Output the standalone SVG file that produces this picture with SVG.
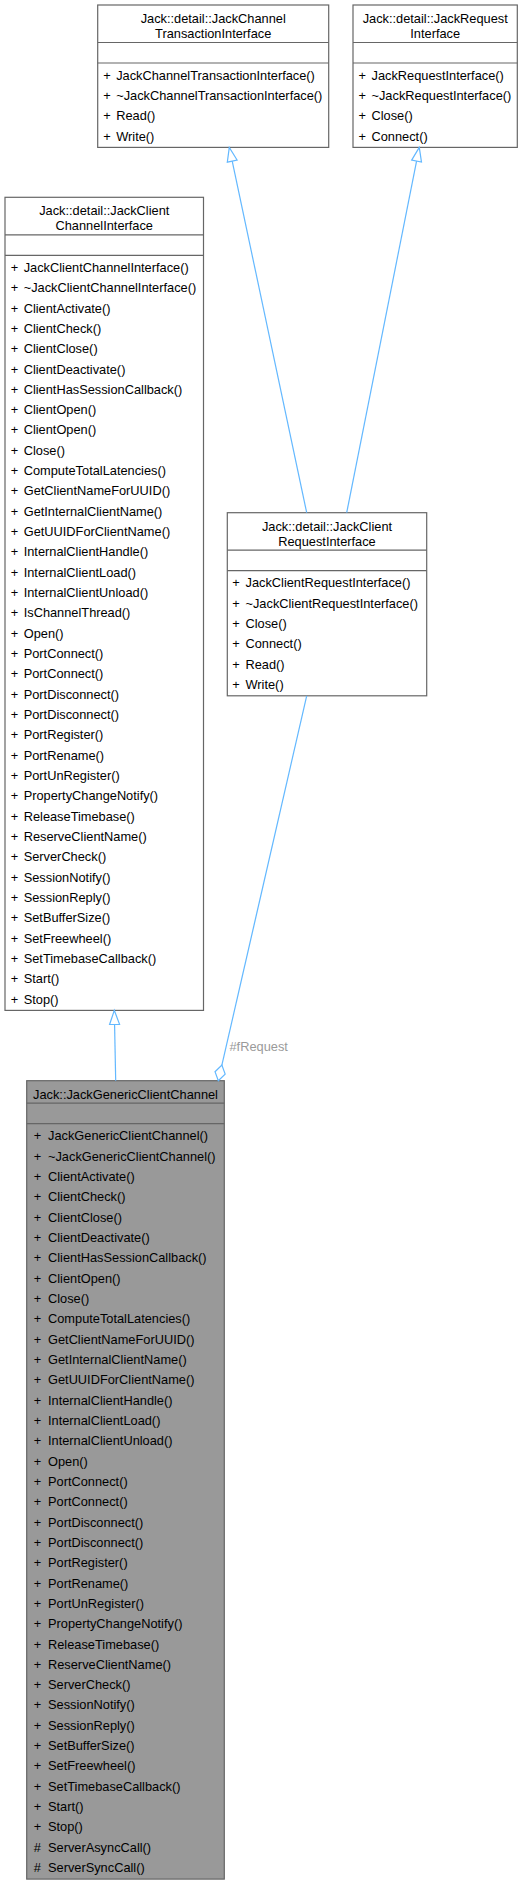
<svg xmlns="http://www.w3.org/2000/svg" width="527" height="1885" viewBox="0 0 527 1885">
<style>
text{font-family:"Liberation Sans",Arial,Helvetica,sans-serif;font-size:12.8px;fill:#000}
.t{text-anchor:middle}
.box{fill:#fff;stroke:#666;stroke-width:1.2}
.cur .box{fill:#999}
.sep{stroke:#666;stroke-width:1.2}
.edge{fill:none;stroke:#63b8ff;stroke-width:1.2}
.mk{fill:#fff;stroke:#63b8ff;stroke-width:1.2}
.lbl{fill:#9a9a9a}
</style>
<defs>
<marker id="tri" markerUnits="userSpaceOnUse" orient="auto" refX="0" refY="0" markerWidth="30" markerHeight="30" style="overflow:visible"><path class="mk" d="M0,0 L-14,-5 L-14,5 Z"/></marker>
<marker id="dia" markerUnits="userSpaceOnUse" orient="auto" refX="0" refY="0" markerWidth="30" markerHeight="30" style="overflow:visible"><path class="mk" d="M0,0 L-8,-5.2 L-16,0 L-8,5.2 Z"/></marker>
</defs>

<g id="node-JackChannelTransactionInterface">
<rect class="box" x="97.7" y="5" width="231" height="142.4"/>
<text class="t" x="213.2" y="23">Jack::detail::JackChannel</text>
<text class="t" x="213.2" y="38">TransactionInterface</text>
<line class="sep" x1="97.7" y1="42.5" x2="328.7" y2="42.5"/>
<line class="sep" x1="97.7" y1="63" x2="328.7" y2="63"/>
<text y="79.5"><tspan x="103.2">+</tspan><tspan x="116.2">JackChannelTransactionInterface()</tspan></text>
<text y="99.8"><tspan x="103.2">+</tspan><tspan x="116.2">~JackChannelTransactionInterface()</tspan></text>
<text y="120.2"><tspan x="103.2">+</tspan><tspan x="116.2">Read()</tspan></text>
<text y="140.5"><tspan x="103.2">+</tspan><tspan x="116.2">Write()</tspan></text>
</g>

<g id="node-JackRequestInterface">
<rect class="box" x="353" y="5" width="164.3" height="142.4"/>
<text class="t" x="435.2" y="23">Jack::detail::JackRequest</text>
<text class="t" x="435.2" y="38">Interface</text>
<line class="sep" x1="353" y1="42.5" x2="517.3" y2="42.5"/>
<line class="sep" x1="353" y1="63" x2="517.3" y2="63"/>
<text y="79.5"><tspan x="358.5">+</tspan><tspan x="371.5">JackRequestInterface()</tspan></text>
<text y="99.8"><tspan x="358.5">+</tspan><tspan x="371.5">~JackRequestInterface()</tspan></text>
<text y="120.2"><tspan x="358.5">+</tspan><tspan x="371.5">Close()</tspan></text>
<text y="140.5"><tspan x="358.5">+</tspan><tspan x="371.5">Connect()</tspan></text>
</g>

<g id="node-JackClientChannelInterface">
<rect class="box" x="5" y="197.3" width="198.5" height="813.1"/>
<text class="t" x="104.25" y="215.3">Jack::detail::JackClient</text>
<text class="t" x="104.25" y="230.3">ChannelInterface</text>
<line class="sep" x1="5" y1="234.8" x2="203.5" y2="234.8"/>
<line class="sep" x1="5" y1="255.3" x2="203.5" y2="255.3"/>
<text y="271.8"><tspan x="10.7">+</tspan><tspan x="23.7">JackClientChannelInterface()</tspan></text>
<text y="292.1"><tspan x="10.7">+</tspan><tspan x="23.7">~JackClientChannelInterface()</tspan></text>
<text y="312.5"><tspan x="10.7">+</tspan><tspan x="23.7">ClientActivate()</tspan></text>
<text y="332.8"><tspan x="10.7">+</tspan><tspan x="23.7">ClientCheck()</tspan></text>
<text y="353.1"><tspan x="10.7">+</tspan><tspan x="23.7">ClientClose()</tspan></text>
<text y="373.5"><tspan x="10.7">+</tspan><tspan x="23.7">ClientDeactivate()</tspan></text>
<text y="393.8"><tspan x="10.7">+</tspan><tspan x="23.7">ClientHasSessionCallback()</tspan></text>
<text y="414.1"><tspan x="10.7">+</tspan><tspan x="23.7">ClientOpen()</tspan></text>
<text y="434.4"><tspan x="10.7">+</tspan><tspan x="23.7">ClientOpen()</tspan></text>
<text y="454.8"><tspan x="10.7">+</tspan><tspan x="23.7">Close()</tspan></text>
<text y="475.1"><tspan x="10.7">+</tspan><tspan x="23.7">ComputeTotalLatencies()</tspan></text>
<text y="495.4"><tspan x="10.7">+</tspan><tspan x="23.7">GetClientNameForUUID()</tspan></text>
<text y="515.8"><tspan x="10.7">+</tspan><tspan x="23.7">GetInternalClientName()</tspan></text>
<text y="536.1"><tspan x="10.7">+</tspan><tspan x="23.7">GetUUIDForClientName()</tspan></text>
<text y="556.4"><tspan x="10.7">+</tspan><tspan x="23.7">InternalClientHandle()</tspan></text>
<text y="576.8"><tspan x="10.7">+</tspan><tspan x="23.7">InternalClientLoad()</tspan></text>
<text y="597.1"><tspan x="10.7">+</tspan><tspan x="23.7">InternalClientUnload()</tspan></text>
<text y="617.4"><tspan x="10.7">+</tspan><tspan x="23.7">IsChannelThread()</tspan></text>
<text y="637.7"><tspan x="10.7">+</tspan><tspan x="23.7">Open()</tspan></text>
<text y="658.1"><tspan x="10.7">+</tspan><tspan x="23.7">PortConnect()</tspan></text>
<text y="678.4"><tspan x="10.7">+</tspan><tspan x="23.7">PortConnect()</tspan></text>
<text y="698.7"><tspan x="10.7">+</tspan><tspan x="23.7">PortDisconnect()</tspan></text>
<text y="719.1"><tspan x="10.7">+</tspan><tspan x="23.7">PortDisconnect()</tspan></text>
<text y="739.4"><tspan x="10.7">+</tspan><tspan x="23.7">PortRegister()</tspan></text>
<text y="759.7"><tspan x="10.7">+</tspan><tspan x="23.7">PortRename()</tspan></text>
<text y="780.1"><tspan x="10.7">+</tspan><tspan x="23.7">PortUnRegister()</tspan></text>
<text y="800.4"><tspan x="10.7">+</tspan><tspan x="23.7">PropertyChangeNotify()</tspan></text>
<text y="820.7"><tspan x="10.7">+</tspan><tspan x="23.7">ReleaseTimebase()</tspan></text>
<text y="841"><tspan x="10.7">+</tspan><tspan x="23.7">ReserveClientName()</tspan></text>
<text y="861.4"><tspan x="10.7">+</tspan><tspan x="23.7">ServerCheck()</tspan></text>
<text y="881.7"><tspan x="10.7">+</tspan><tspan x="23.7">SessionNotify()</tspan></text>
<text y="902"><tspan x="10.7">+</tspan><tspan x="23.7">SessionReply()</tspan></text>
<text y="922.4"><tspan x="10.7">+</tspan><tspan x="23.7">SetBufferSize()</tspan></text>
<text y="942.7"><tspan x="10.7">+</tspan><tspan x="23.7">SetFreewheel()</tspan></text>
<text y="963"><tspan x="10.7">+</tspan><tspan x="23.7">SetTimebaseCallback()</tspan></text>
<text y="983.4"><tspan x="10.7">+</tspan><tspan x="23.7">Start()</tspan></text>
<text y="1003.7"><tspan x="10.7">+</tspan><tspan x="23.7">Stop()</tspan></text>
</g>

<g id="node-JackClientRequestInterface">
<rect class="box" x="227.3" y="512.7" width="199.4" height="183.1"/>
<text class="t" x="327" y="530.7">Jack::detail::JackClient</text>
<text class="t" x="327" y="545.7">RequestInterface</text>
<line class="sep" x1="227.3" y1="550.2" x2="426.7" y2="550.2"/>
<line class="sep" x1="227.3" y1="570.7" x2="426.7" y2="570.7"/>
<text y="587.2"><tspan x="232.2">+</tspan><tspan x="245.5">JackClientRequestInterface()</tspan></text>
<text y="607.5"><tspan x="232.2">+</tspan><tspan x="245.5">~JackClientRequestInterface()</tspan></text>
<text y="627.9"><tspan x="232.2">+</tspan><tspan x="245.5">Close()</tspan></text>
<text y="648.2"><tspan x="232.2">+</tspan><tspan x="245.5">Connect()</tspan></text>
<text y="668.5"><tspan x="232.2">+</tspan><tspan x="245.5">Read()</tspan></text>
<text y="688.9"><tspan x="232.2">+</tspan><tspan x="245.5">Write()</tspan></text>
</g>

<g id="node-JackGenericClientChannel" class="cur">
<rect class="box" x="26.7" y="1080.7" width="197.6" height="798.4"/>
<text class="t" x="125.5" y="1099.2">Jack::JackGenericClientChannel</text>
<line class="sep" x1="26.7" y1="1103.2" x2="224.3" y2="1103.2"/>
<line class="sep" x1="26.7" y1="1123.7" x2="224.3" y2="1123.7"/>
<text y="1140.2"><tspan x="33.7">+</tspan><tspan x="48">JackGenericClientChannel()</tspan></text>
<text y="1160.5"><tspan x="33.7">+</tspan><tspan x="48">~JackGenericClientChannel()</tspan></text>
<text y="1180.9"><tspan x="33.7">+</tspan><tspan x="48">ClientActivate()</tspan></text>
<text y="1201.2"><tspan x="33.7">+</tspan><tspan x="48">ClientCheck()</tspan></text>
<text y="1221.5"><tspan x="33.7">+</tspan><tspan x="48">ClientClose()</tspan></text>
<text y="1241.9"><tspan x="33.7">+</tspan><tspan x="48">ClientDeactivate()</tspan></text>
<text y="1262.2"><tspan x="33.7">+</tspan><tspan x="48">ClientHasSessionCallback()</tspan></text>
<text y="1282.5"><tspan x="33.7">+</tspan><tspan x="48">ClientOpen()</tspan></text>
<text y="1302.8"><tspan x="33.7">+</tspan><tspan x="48">Close()</tspan></text>
<text y="1323.2"><tspan x="33.7">+</tspan><tspan x="48">ComputeTotalLatencies()</tspan></text>
<text y="1343.5"><tspan x="33.7">+</tspan><tspan x="48">GetClientNameForUUID()</tspan></text>
<text y="1363.8"><tspan x="33.7">+</tspan><tspan x="48">GetInternalClientName()</tspan></text>
<text y="1384.2"><tspan x="33.7">+</tspan><tspan x="48">GetUUIDForClientName()</tspan></text>
<text y="1404.5"><tspan x="33.7">+</tspan><tspan x="48">InternalClientHandle()</tspan></text>
<text y="1424.8"><tspan x="33.7">+</tspan><tspan x="48">InternalClientLoad()</tspan></text>
<text y="1445.2"><tspan x="33.7">+</tspan><tspan x="48">InternalClientUnload()</tspan></text>
<text y="1465.5"><tspan x="33.7">+</tspan><tspan x="48">Open()</tspan></text>
<text y="1485.8"><tspan x="33.7">+</tspan><tspan x="48">PortConnect()</tspan></text>
<text y="1506.1"><tspan x="33.7">+</tspan><tspan x="48">PortConnect()</tspan></text>
<text y="1526.5"><tspan x="33.7">+</tspan><tspan x="48">PortDisconnect()</tspan></text>
<text y="1546.8"><tspan x="33.7">+</tspan><tspan x="48">PortDisconnect()</tspan></text>
<text y="1567.1"><tspan x="33.7">+</tspan><tspan x="48">PortRegister()</tspan></text>
<text y="1587.5"><tspan x="33.7">+</tspan><tspan x="48">PortRename()</tspan></text>
<text y="1607.8"><tspan x="33.7">+</tspan><tspan x="48">PortUnRegister()</tspan></text>
<text y="1628.1"><tspan x="33.7">+</tspan><tspan x="48">PropertyChangeNotify()</tspan></text>
<text y="1648.5"><tspan x="33.7">+</tspan><tspan x="48">ReleaseTimebase()</tspan></text>
<text y="1668.8"><tspan x="33.7">+</tspan><tspan x="48">ReserveClientName()</tspan></text>
<text y="1689.1"><tspan x="33.7">+</tspan><tspan x="48">ServerCheck()</tspan></text>
<text y="1709.4"><tspan x="33.7">+</tspan><tspan x="48">SessionNotify()</tspan></text>
<text y="1729.8"><tspan x="33.7">+</tspan><tspan x="48">SessionReply()</tspan></text>
<text y="1750.1"><tspan x="33.7">+</tspan><tspan x="48">SetBufferSize()</tspan></text>
<text y="1770.4"><tspan x="33.7">+</tspan><tspan x="48">SetFreewheel()</tspan></text>
<text y="1790.8"><tspan x="33.7">+</tspan><tspan x="48">SetTimebaseCallback()</tspan></text>
<text y="1811.1"><tspan x="33.7">+</tspan><tspan x="48">Start()</tspan></text>
<text y="1831.4"><tspan x="33.7">+</tspan><tspan x="48">Stop()</tspan></text>
<text y="1851.8"><tspan x="33.7">#</tspan><tspan x="48">ServerAsyncCall()</tspan></text>
<text y="1872.1"><tspan x="33.7">#</tspan><tspan x="48">ServerSyncCall()</tspan></text>
</g>

<g id="connectors">
<path class="edge" d="M306.7,512.7 L229.3,147.4" marker-end="url(#tri)"/>
<path class="edge" d="M346.7,512.7 L419.3,147.4" marker-end="url(#tri)"/>
<path class="edge" d="M115.7,1080.7 L114.3,1010.4" marker-end="url(#tri)"/>
<path class="edge" d="M306.7,695.8 L218.3,1080.7" marker-end="url(#dia)"/>
<text class="lbl" x="229.5" y="1051">#fRequest</text>
</g>
</svg>
